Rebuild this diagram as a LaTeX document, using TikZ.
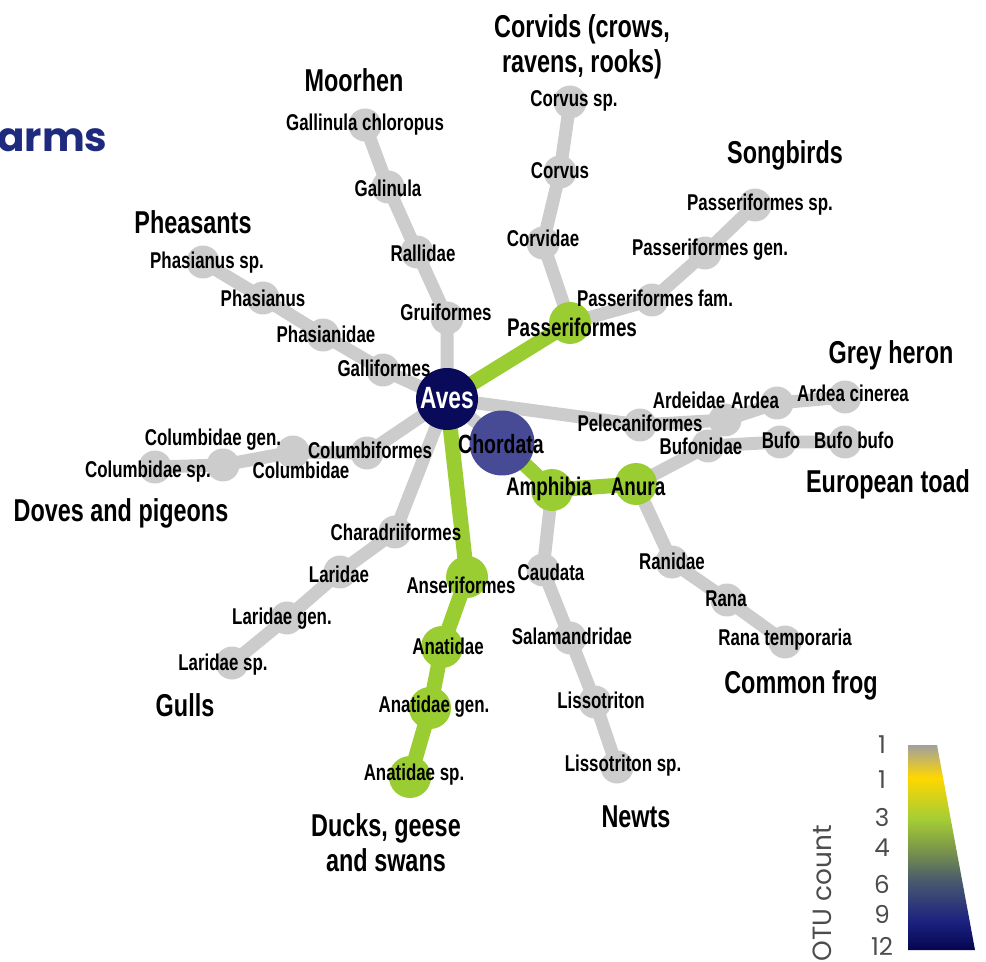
\documentclass[tikz,border=0pt]{standalone}
\usepackage{fontspec}
\newfontfamily\taxfont{Liberation Sans}[FakeStretch=0.74]
\newfontfamily\legfont{Poppins}

\definecolor{edgegray}{HTML}{CCCCCC}
\definecolor{otugreen}{HTML}{9ACD32}
\definecolor{otunavy}{HTML}{0A0A5A}
\definecolor{otuslate}{HTML}{474B96}
\definecolor{titleblue}{HTML}{1E2A7E}
\definecolor{barnavy}{HTML}{05054F}
\definecolor{barblue}{HTML}{1B2280}
\definecolor{barslate}{HTML}{4A5A6E}
\definecolor{barolive}{HTML}{7E9A48}
\definecolor{bargreen}{HTML}{A5CD35}
\definecolor{bargold}{HTML}{FFD700}
\definecolor{bargray}{HTML}{A0A0A0}

\pgfdeclareverticalshading{otubar}{100bp}{color(0bp)=(barnavy); color(25bp)=(barnavy);
  color(32bp)=(barblue); color(42bp)=(barslate); color(50bp)=(barolive);
  color(57bp)=(bargreen); color(67bp)=(bargold); color(75bp)=(bargray); color(100bp)=(bargray)}

\pgfdeclarelayer{background}
\pgfsetlayers{background,main}

\tikzset{
  taxon/.style={circle, fill=edgegray, minimum size=0.66cm, inner sep=0pt},
  hit/.style={circle, fill=otugreen, minimum size=0.84cm, inner sep=0pt},
  link/.style={draw=edgegray, line width=0.26cm, line cap=round},
  hitlink/.style={draw=otugreen, line width=0.3cm, line cap=round},
  tax/.style={font=\taxfont\bfseries\fontsize{13}{14}\selectfont, inner sep=0pt},
  group/.style={font=\taxfont\bfseries\fontsize{18}{20}\selectfont, align=center, inner sep=0pt},
  legnum/.style={font=\legfont\fontsize{14}{16}\selectfont, text=black!70, inner sep=0pt}
}

\begin{document}
\begin{tikzpicture}[x=0.02cm, y=-0.02cm]
\useasboundingbox (0,0) rectangle (986,962);

% root and class nodes
\node[circle, fill=otuslate, minimum size=1.3cm, inner sep=0pt] (chordata) at (502,443) {};
\node[circle, fill=otunavy, minimum size=1.24cm, inner sep=0pt] (aves) at (447,399) {};
\node[hit] (amphibia) at (552,490) {};
\node[hit] (anura) at (636,484) {};

% birds
\node[taxon] (gruif) at (447,318) {};
\node[taxon] (rallidae) at (417,252) {};
\node[taxon] (galinula) at (388,187) {};
\node[taxon] (gchloropus) at (365,125) {};
\node[taxon] (gallif) at (383,370) {};
\node[taxon] (phasianidae) at (323,335) {};
\node[taxon] (phasianus) at (263,298) {};
\node[taxon] (phasianussp) at (203,262) {};
\node[taxon] (columbif) at (367,453) {};
\node[taxon] (columbidae) at (293,452) {};
\node[taxon] (columbidaegen) at (223,465) {};
\node[taxon] (columbidaesp) at (155,467) {};
\node[taxon] (charadrif) at (395,532) {};
\node[taxon] (laridae) at (340,572) {};
\node[taxon] (laridaegen) at (287,618) {};
\node[taxon] (laridaesp) at (232,663) {};
\node[hit] (anserif) at (467,577) {};
\node[hit] (anatidae) at (442,647) {};
\node[hit] (anatidaegen) at (430,708) {};
\node[hit] (anatidaesp) at (410,777) {};
\node[hit] (passerif) at (570,323) {};
\node[taxon] (corvidae) at (543,243) {};
\node[taxon] (corvus) at (560,172) {};
\node[taxon] (corvussp) at (570,102) {};
\node[taxon] (passfam) at (652,300) {};
\node[taxon] (passgen) at (705,253) {};
\node[taxon] (passsp) at (755,205) {};
\node[taxon] (pelecanif) at (640,425) {};
\node[taxon] (ardeidae) at (725,420) {};
\node[taxon] (ardea) at (777,403) {};
\node[taxon] (ardeacinerea) at (845,397) {};

% amphibians
\node[taxon] (caudata) at (543,570) {};
\node[taxon] (salamandridae) at (570,638) {};
\node[taxon] (lissotriton) at (595,702) {};
\node[taxon] (lissotritonsp) at (617,767) {};
\node[taxon] (ranidae) at (672,562) {};
\node[taxon] (rana) at (727,600) {};
\node[taxon] (ranatemporaria) at (785,642) {};
\node[taxon] (bufonidae) at (708,446) {};
\node[taxon] (bufo) at (780,442) {};
\node[taxon] (bufobufo) at (845,442) {};

\begin{pgfonlayer}{background}
  \draw[link] (chordata.center) -- (aves.center);
  \draw[link] (aves.center) -- (gruif.center) -- (rallidae.center) -- (galinula.center) -- (gchloropus.center);
  \draw[link] (aves.center) -- (gallif.center) -- (phasianidae.center) -- (phasianus.center) -- (phasianussp.center);
  \draw[link] (aves.center) -- (columbif.center) -- (columbidae.center) -- (columbidaegen.center) -- (columbidaesp.center);
  \draw[link] (aves.center) -- (charadrif.center) -- (laridae.center) -- (laridaegen.center) -- (laridaesp.center);
  \draw[link] (aves.center) -- (pelecanif.center) -- (ardeidae.center) -- (ardea.center) -- (ardeacinerea.center);
  \draw[link] (passerif.center) -- (corvidae.center) -- (corvus.center) -- (corvussp.center);
  \draw[link] (passerif.center) -- (passfam.center) -- (passgen.center) -- (passsp.center);
  \draw[link] (amphibia.center) -- (caudata.center) -- (salamandridae.center) -- (lissotriton.center) -- (lissotritonsp.center);
  \draw[link] (anura.center) -- (ranidae.center) -- (rana.center) -- (ranatemporaria.center);
  \draw[link] (anura.center) -- (bufonidae.center) -- (bufo.center) -- (bufobufo.center);
  \draw[hitlink] (aves.center) -- (passerif.center);
  \draw[hitlink] (aves.center) -- (anserif.center) -- (anatidae.center) -- (anatidaegen.center) -- (anatidaesp.center);
  \draw[hitlink] (chordata.center) -- (amphibia.center) -- (anura.center);
\end{pgfonlayer}

% taxon labels
\node[tax] (l-gchloropus) at (365,125) {Gallinula chloropus};
\node[tax] (l-galinula) at (388,188) {Galinula};
\node[tax] (l-rallidae) at (423,253) {Rallidae};
\node[tax] (l-gruif) at (446,312) {Gruiformes};
\node[tax] (l-gallif) at (384,368) {Galliformes};
\node[tax] (l-phasianidae) at (326,334) {Phasianidae};
\node[tax] (l-phasianus) at (263,298) {Phasianus};
\node[tax] (l-phasianussp) at (207,263) {Phasianus sp.};
\node[tax] (l-columbif) at (370,450) {Columbiformes};
\node[tax] (l-columbidae) at (301,470) {Columbidae};
\node[tax] (l-columbidaegen) at (213,440) {Columbidae gen.};
\node[tax] (l-columbidaesp) at (148,472) {Columbidae sp.};
\node[tax] (l-charadrif) at (396,532) {Charadriiformes};
\node[tax] (l-laridae) at (339,574) {Laridae};
\node[tax] (l-laridaegen) at (282,619) {Laridae gen.};
\node[tax] (l-laridaesp) at (223,665) {Laridae sp.};
\node[tax] (l-anserif) at (461,585) {Anseriformes};
\node[tax] (l-anatidae) at (448,646) {Anatidae};
\node[tax] (l-anatidaegen) at (434,707) {Anatidae gen.};
\node[tax] (l-anatidaesp) at (414,775) {Anatidae sp.};
\node[tax, font=\taxfont\bfseries\fontsize{14.5}{16}\selectfont] (l-passerif) at (572,327) {Passeriformes};
\node[tax] (l-corvidae) at (543,238) {Corvidae};
\node[tax] (l-corvus) at (560,171) {Corvus};
\node[tax] (l-corvussp) at (574,101) {Corvus sp.};
\node[tax] (l-passfam) at (655,298) {Passeriformes fam.};
\node[tax] (l-passgen) at (710,250) {Passeriformes gen.};
\node[tax] (l-passsp) at (760,205) {Passeriformes sp.};
\node[tax] (l-pelecanif) at (640,423) {Pelecaniformes};
\node[tax] (l-ardeidae) at (689,400) {Ardeidae};
\node[tax] (l-ardea) at (755,400) {Ardea};
\node[tax] (l-ardeacinerea) at (853,393) {Ardea cinerea};
\node[tax] (l-caudata) at (551,572) {Caudata};
\node[tax] (l-salamandridae) at (572,636) {Salamandridae};
\node[tax] (l-lissotriton) at (601,700) {Lissotriton};
\node[tax] (l-lissotritonsp) at (623,766) {Lissotriton sp.};
\node[tax] (l-ranidae) at (672,561) {Ranidae};
\node[tax] (l-rana) at (726,599) {Rana};
\node[tax] (l-ranatemporaria) at (785,640) {Rana temporaria};
\node[tax] (l-bufonidae) at (701,446) {Bufonidae};
\node[tax] (l-bufo) at (781,440) {Bufo};
\node[tax] (l-bufobufo) at (854,440) {Bufo bufo};
\node[tax, font=\taxfont\bfseries\fontsize{14.5}{16}\selectfont] (l-amphibia) at (549,489) {Amphibia};
\node[tax, font=\taxfont\bfseries\fontsize{14.5}{16}\selectfont] (l-anura) at (638,487) {Anura};
\node[tax, font=\taxfont\bfseries\fontsize{15}{17}\selectfont] (l-chordata) at (501,444) {Chordata};
\node[tax, font=\taxfont\bfseries\fontsize{17.5}{19}\selectfont, text=white] (l-aves) at (447,398) {Aves};

% common names
\node[group] (g-corvids) at (582,47) {Corvids (crows,\\ravens, rooks)};
\node[group] (g-moorhen) at (354,80) {Moorhen};
\node[group] (g-songbirds) at (785,155) {Songbirds};
\node[group] (g-pheasants) at (193,222) {Pheasants};
\node[group] (g-heron) at (891,355) {Grey heron};
\node[group] (g-toad) at (888,484) {European toad};
\node[group] (g-doves) at (121,513) {Doves and pigeons};
\node[group] (g-gulls) at (185,705) {Gulls};
\node[group] (g-frog) at (801,685) {Common frog};
\node[group] (g-ducks) at (386,843) {Ducks, geese\\and swans};
\node[group] (g-newts) at (636,817) {Newts};

% title fragment
\node[anchor=west, inner sep=0pt, font=\legfont\bfseries\fontsize{23}{26}\selectfont, text=titleblue] (title) at (-3,140) {arms};

% legend
\shade[shading=otubar] (908,745) -- (937,745) -- (975,950) -- (908,950) -- cycle;
\node[legnum] (n1) at (882,745) {1};
\node[legnum] (n2) at (882,780) {1};
\node[legnum] (n3) at (882,817) {3};
\node[legnum] (n4) at (882,848) {4};
\node[legnum] (n6) at (882,884) {6};
\node[legnum] (n9) at (882,914) {9};
\node[legnum] (n12) at (882,946) {12};
\node[legnum, rotate=90, font=\legfont\fontsize{15}{17}\selectfont] (otu) at (822,893) {OTU count};
\end{tikzpicture}
\end{document}
